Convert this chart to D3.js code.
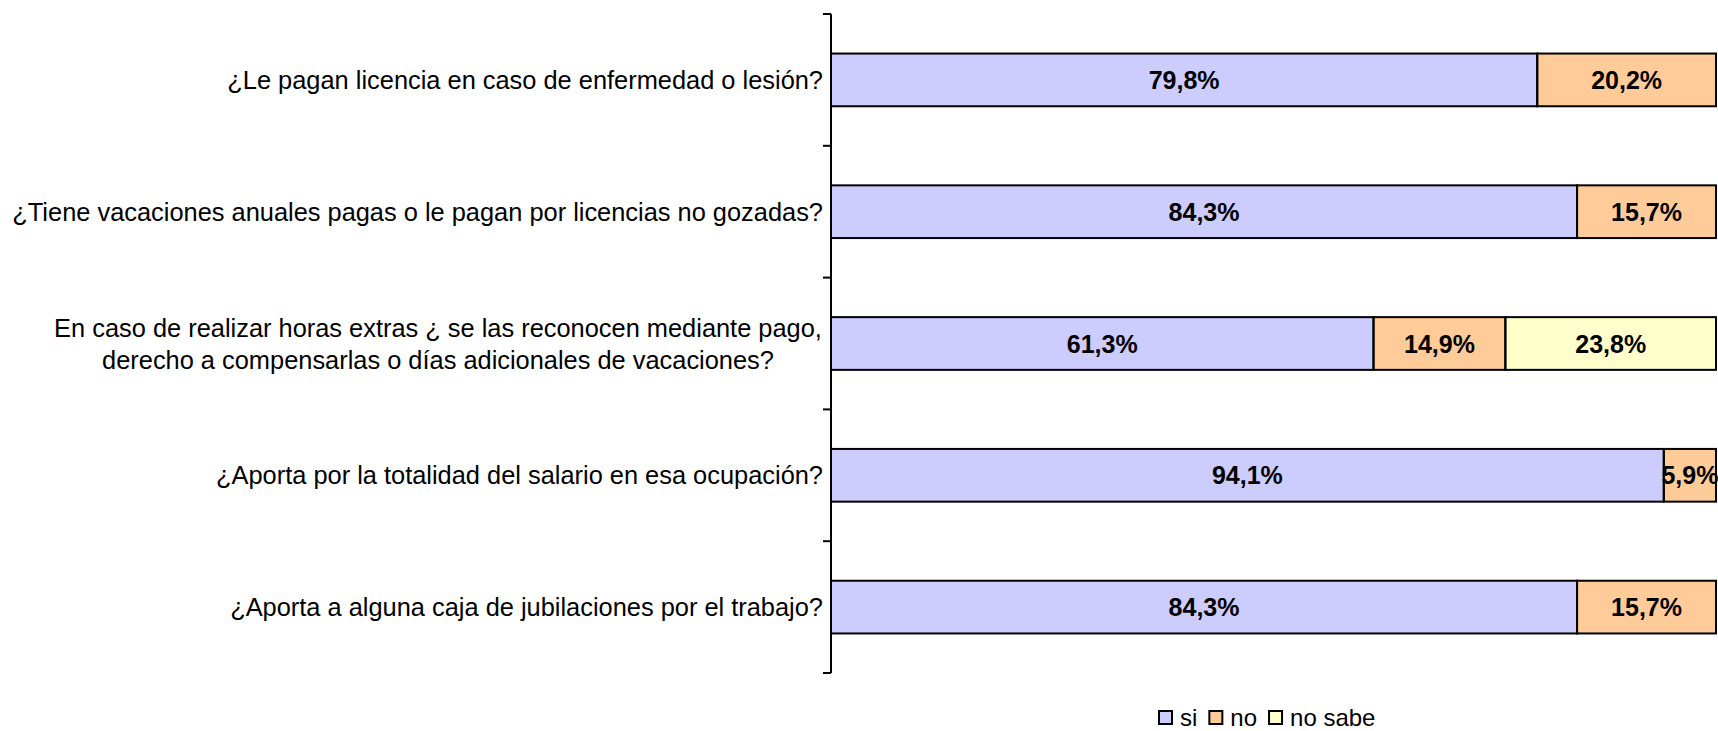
<!DOCTYPE html>
<html>
<head>
<meta charset="utf-8">
<script src="https://cdn.jsdelivr.net/npm/d3@7"></script>
<style>
  body { margin: 0; background: #fff; }
  svg { display: block; font-family: "Liberation Sans", Arial, sans-serif; }
</style>
</head>
<body>
<svg id="chart" width="1718" height="731"></svg>
<script>
// categories, top to bottom (each entry is the list of text lines)
const categories = [
    ["¿Le pagan licencia en caso de enfermedad o lesión?"],
    ["¿Tiene vacaciones anuales pagas o le pagan por licencias no gozadas?"],
    ["En caso de realizar horas extras ¿ se las reconocen mediante pago,", "derecho a compensarlas o días adicionales de vacaciones?"],
    ["¿Aporta por la totalidad del salario en esa ocupación?"],
    ["¿Aporta a alguna caja de jubilaciones por el trabajo?"]
];
const seriesNames = ["si", "no", "no sabe"];
const siValues     = [79.8, 84.3, 61.3, 94.1, 84.3];
const noValues     = [20.2, 15.7, 14.9, 5.9, 15.7];
const noSabeValues = [0, 0, 23.8, 0, 0];
const seriesColors = ["#ccccff", "#ffcc99", "#ffffcc"];

const svg = d3.select('#chart');
const margin = {top: 14, right: 2, bottom: 58, left: 831};
const width = 1718 - margin.left - margin.right;
const height = 731 - margin.top - margin.bottom;

const g = svg.append('g')
    .attr('transform', `translate(${margin.left},${margin.top})`);

const rows = categories.map((c, i) => ({
    key: i,
    lines: c,
    values: [siValues[i], noValues[i], noSabeValues[i]]
}));

const stacked = d3.stack()
    .keys([0, 1, 2])
    .value((d, k) => d.values[k])(rows);

const x = d3.scaleLinear().domain([0, 100]).range([0, width]);
const y = d3.scaleBand()
    .domain(rows.map(d => d.key))
    .range([0, height])
    .paddingInner(0.6)
    .paddingOuter(0.3);

const color = d3.scaleOrdinal().domain([0, 1, 2]).range(seriesColors);

const segments = stacked.flatMap(layer =>
    layer.filter(s => s[1] - s[0] > 0).map(s => ({key: layer.key, s0: s[0], s1: s[1], row: s.data.key}))
);

// Bar fills
g.selectAll('.bar')
    .data(segments)
    .enter().append('rect')
    .attr('class', 'bar')
    .attr('x', d => x(d.s0))
    .attr('y', d => y(d.row))
    .attr('width', d => x(d.s1) - x(d.s0))
    .attr('height', y.bandwidth())
    .attr('fill', d => color(d.key));

// Value labels
g.selectAll('.val')
    .data(segments)
    .enter().append('text')
    .attr('class', 'val')
    .attr('x', d => (x(d.s0) + x(d.s1)) / 2)
    .attr('y', d => y(d.row) + y.bandwidth() / 2)
    .attr('dy', '0.36em')
    .attr('text-anchor', 'middle')
    .attr('fill', '#000')
    .style('font-size', '25px')
    .style('font-weight', 'bold')
    .text(d => d3.format('.1f')(d.s1 - d.s0).replace('.', ',') + '%');

// Bar outlines (drawn over the labels, as in the original)
g.selectAll('.outline')
    .data(segments)
    .enter().append('rect')
    .attr('class', 'outline')
    .attr('x', d => x(d.s0))
    .attr('y', d => y(d.row))
    .attr('width', d => x(d.s1) - x(d.s0))
    .attr('height', y.bandwidth())
    .attr('fill', 'none')
    .attr('stroke', '#000')
    .attr('stroke-width', 2);

// Vertical axis with ticks at band boundaries
const boundaries = d3.range(rows.length + 1).map(i => i * height / rows.length);
g.append('line')
    .attr('x1', 0).attr('x2', 0)
    .attr('y1', 0).attr('y2', height)
    .attr('stroke', '#000')
    .attr('stroke-width', 2);
g.selectAll('.tick')
    .data(boundaries)
    .enter().append('line')
    .attr('class', 'tick')
    .attr('x1', -8).attr('x2', 0)
    .attr('y1', d => d).attr('y2', d => d)
    .attr('stroke', '#000')
    .attr('stroke-width', 2);

// Category labels
const labels = g.selectAll('.cat')
    .data(rows)
    .enter().append('text')
    .attr('class', 'cat')
    .attr('fill', '#000')
    .style('font-size', '25.4px');

labels.each(function (d) {
    const t = d3.select(this);
    const cy = y(d.key) + y.bandwidth() / 2;
    const lh = 32;
    if (d.lines.length === 1) {
        t.attr('text-anchor', 'end')
            .attr('x', -8)
            .attr('y', cy)
            .attr('dy', '0.36em')
            .text(d.lines[0]);
    } else {
        t.attr('text-anchor', 'middle').attr('x', -393);
        d.lines.forEach((ln, j) => {
            t.append('tspan')
                .attr('x', -393)
                .attr('y', cy + (j - (d.lines.length - 1) / 2) * lh)
                .attr('dy', '0.36em')
                .text(ln);
        });
    }
});

// Legend
const legend = svg.append('g')
    .attr('transform', 'translate(1159,717)')
    .style('font-size', '24px');
let lx = 0;
seriesNames.forEach((name, i) => {
    legend.append('rect')
        .attr('x', lx).attr('y', -6)
        .attr('width', 13).attr('height', 13)
        .attr('fill', seriesColors[i])
        .attr('stroke', '#000')
        .attr('stroke-width', 2);
    const t = legend.append('text')
        .attr('x', lx + 21)
        .attr('y', 0)
        .attr('dy', '0.36em')
        .attr('fill', '#000')
        .text(name);
    lx += 21 + t.node().getComputedTextLength() + 12;
});
</script>
</body>
</html>
